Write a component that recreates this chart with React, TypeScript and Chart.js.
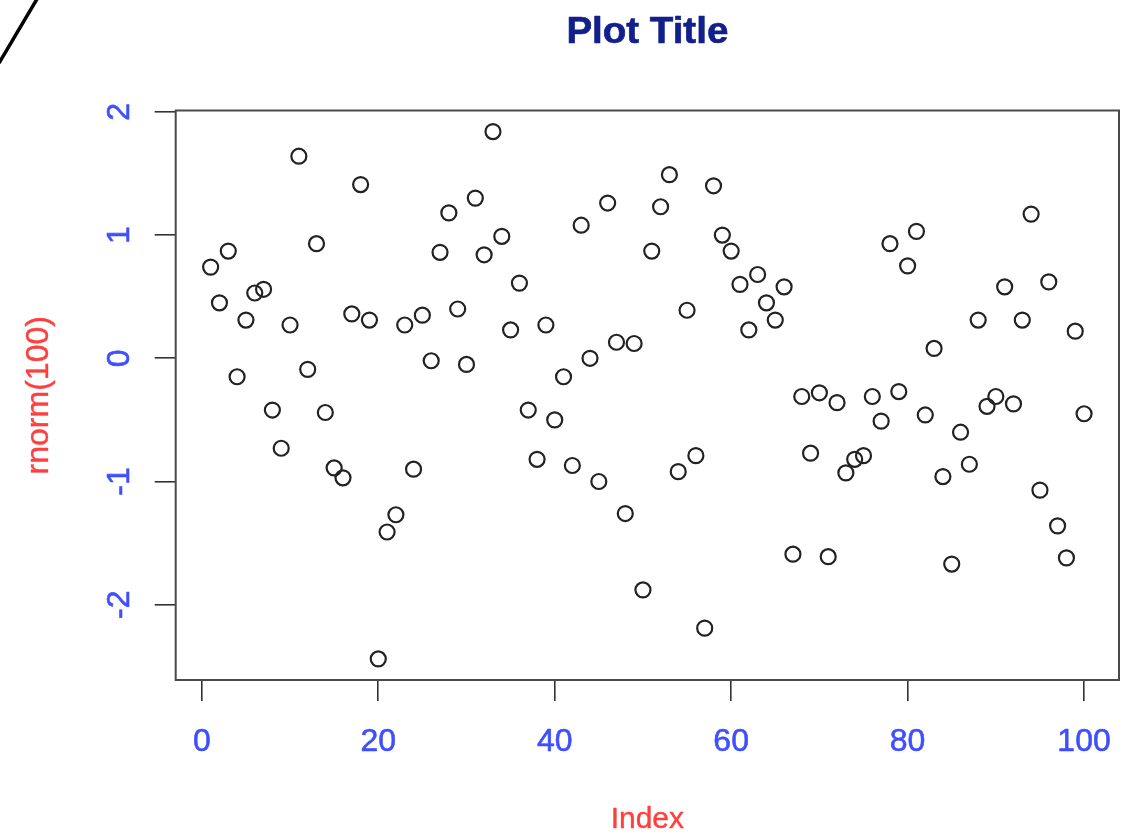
import React, { useEffect, useRef } from "react";
import { Chart, registerables } from "chart.js";

Chart.register(...registerables);

// rnorm(100) values (index = position + 1)
const values: number[] = [
  0.74, 0.45, 0.87, -0.15, 0.31, 0.53, 0.56, -0.42, -0.73, 0.27,
  1.64, -0.09, 0.93, -0.44, -0.89, -0.97, 0.36, 1.41, 0.31, -2.44,
  -1.41, -1.27, 0.27, -0.9, 0.35, -0.02, 0.86, 1.18, 0.4, -0.05,
  1.3, 0.84, 1.84, 0.99, 0.23, 0.61, -0.42, -0.82, 0.27, -0.5,
  -0.15, -0.87, 1.08, 0.0, -1.0, 1.26, 0.13, -1.26, 0.12, -1.88,
  0.87, 1.23, 1.49, -0.92, 0.39, -0.79, -2.19, 1.4, 1.0, 0.87,
  0.6, 0.23, 0.68, 0.45, 0.31, 0.58, -1.59, -0.31, -0.77, -0.28,
  -1.61, -0.36, -0.93, -0.82, -0.79, -0.31, -0.51, 0.93, -0.27, 0.75,
  1.03, -0.46, 0.08, -0.96, -1.67, -0.6, -0.86, 0.31, -0.39, -0.31,
  0.58, -0.37, 0.31, 1.17, -1.07, 0.62, -1.36, -1.62, 0.22, -0.45,
];

const xTicks: number[] = [0, 20, 40, 60, 80, 100];
const yTicks: number[] = [-2, -1, 0, 1, 2];
const xTickLabels: string[] = ["0", "20", "40", "60", "80", "100"];
const yTickLabels: string[] = ["-2", "-1", "0", "1", "2"];

const title = "Plot Title";
const xTitle = "Index";
const yTitle = "rnorm(100)";

const FONT = "'Liberation Sans', Arial, Helvetica, sans-serif";
const BLUE = "#3f4fff";
const RED = "#ff3f3f";
const NAVY = "#13208c";

function heavyText(ctx: any, text: string, x: number, y: number, color: string, w: number) {
  ctx.fillStyle = color;
  ctx.strokeStyle = color;
  ctx.lineWidth = w;
  ctx.lineJoin = "round";
  ctx.fillText(text, x, y);
  if (w > 0) ctx.strokeText(text, x, y);
}

const textPlugin = {
  id: "rtext",
  afterDraw(chart: any) {
    const { ctx, chartArea, scales } = chart;
    const xs = scales.x;
    const ys = scales.y;
    ctx.save();
    // box
    ctx.strokeStyle = "#4a4a4a";
    ctx.lineWidth = 2;
    ctx.strokeRect(chartArea.left, chartArea.top, chartArea.right - chartArea.left, chartArea.bottom - chartArea.top);

    ctx.textAlign = "center";
    ctx.textBaseline = "alphabetic";

    // title (slightly widened like the reference)
    ctx.save();
    ctx.translate((chartArea.left + chartArea.right) / 2, 43);
    ctx.scale(1.07, 1);
    ctx.font = `bold 36px ${FONT}`;
    heavyText(ctx, title, 0, 0, NAVY, 0.6);
    ctx.restore();

    // x tick labels
    ctx.font = `32px ${FONT}`;
    xTicks.forEach((t, i) => {
      heavyText(ctx, xTickLabels[i], xs.getPixelForValue(t), 751, BLUE, 0.6);
    });

    // y tick labels (rotated)
    yTicks.forEach((t, i) => {
      ctx.save();
      ctx.translate(129, ys.getPixelForValue(t));
      ctx.rotate(-Math.PI / 2);
      heavyText(ctx, yTickLabels[i], 0, 0, BLUE, 0.6);
      ctx.restore();
    });

    // axis titles
    ctx.font = `30px ${FONT}`;
    heavyText(ctx, xTitle, (chartArea.left + chartArea.right) / 2, 828, RED, 0.4);
    ctx.save();
    ctx.translate(48, (chartArea.top + chartArea.bottom) / 2);
    ctx.rotate(-Math.PI / 2);
    ctx.font = `32px ${FONT}`;
    heavyText(ctx, yTitle, 0, 0, RED, 0.4);
    ctx.restore();

    // stray diagonal stroke in the top-left corner
    ctx.strokeStyle = "#000";
    ctx.lineWidth = 3.5;
    ctx.beginPath();
    ctx.moveTo(-1, 63);
    ctx.lineTo(37, -1);
    ctx.stroke();
    ctx.restore();
  },
};

export default function App() {
  const ref = useRef<HTMLCanvasElement | null>(null);

  useEffect(() => {
    if (!ref.current) return;
    const chart = new Chart(ref.current, {
      type: "scatter",
      data: {
        datasets: [
          {
            data: values.map((v, i) => ({ x: i + 1, y: v })),
            pointStyle: "circle",
            pointRadius: 7.5,
            pointBorderWidth: 2.2,
            pointBorderColor: "#222",
            pointBackgroundColor: "rgba(0,0,0,0)",
            showLine: false,
          },
        ],
      },
      plugins: [textPlugin],
      options: {
        animation: false,
        responsive: false,
        events: [],
        layout: { padding: { top: 110.5, right: 10, left: 0, bottom: 0 } },
        plugins: {
          legend: { display: false },
          tooltip: { enabled: false },
          title: { display: false },
        },
        scales: {
          x: {
            type: "linear",
            min: -2.96,
            max: 103.96,
            afterBuildTicks: (s: any) => {
              s.ticks = xTicks.map((v) => ({ value: v }));
            },
            afterFit: (s: any) => {
              s.height = 154;
            },
            ticks: { display: false },
            grid: {
              display: true,
              drawOnChartArea: false,
              drawTicks: true,
              tickLength: 21,
              color: "#333",
              lineWidth: 1.6,
            },
            border: { display: false },
          },
          y: {
            type: "linear",
            min: -2.611,
            max: 2.011,
            afterBuildTicks: (s: any) => {
              s.ticks = yTicks.map((v) => ({ value: v }));
            },
            afterFit: (s: any) => {
              s.width = 175.7;
            },
            ticks: { display: false },
            grid: {
              display: true,
              drawOnChartArea: false,
              drawTicks: true,
              tickLength: 21,
              color: "#333",
              lineWidth: 1.6,
            },
            border: { display: false },
          },
        },
      },
    });
    return () => chart.destroy();
  }, []);

  return (
    <div style={{ position: "fixed", left: 0, top: 0, width: 1129, height: 834, background: "#fff" }}>
      <canvas ref={ref} width={1129} height={834} style={{ display: "block" }} />
    </div>
  );
}
